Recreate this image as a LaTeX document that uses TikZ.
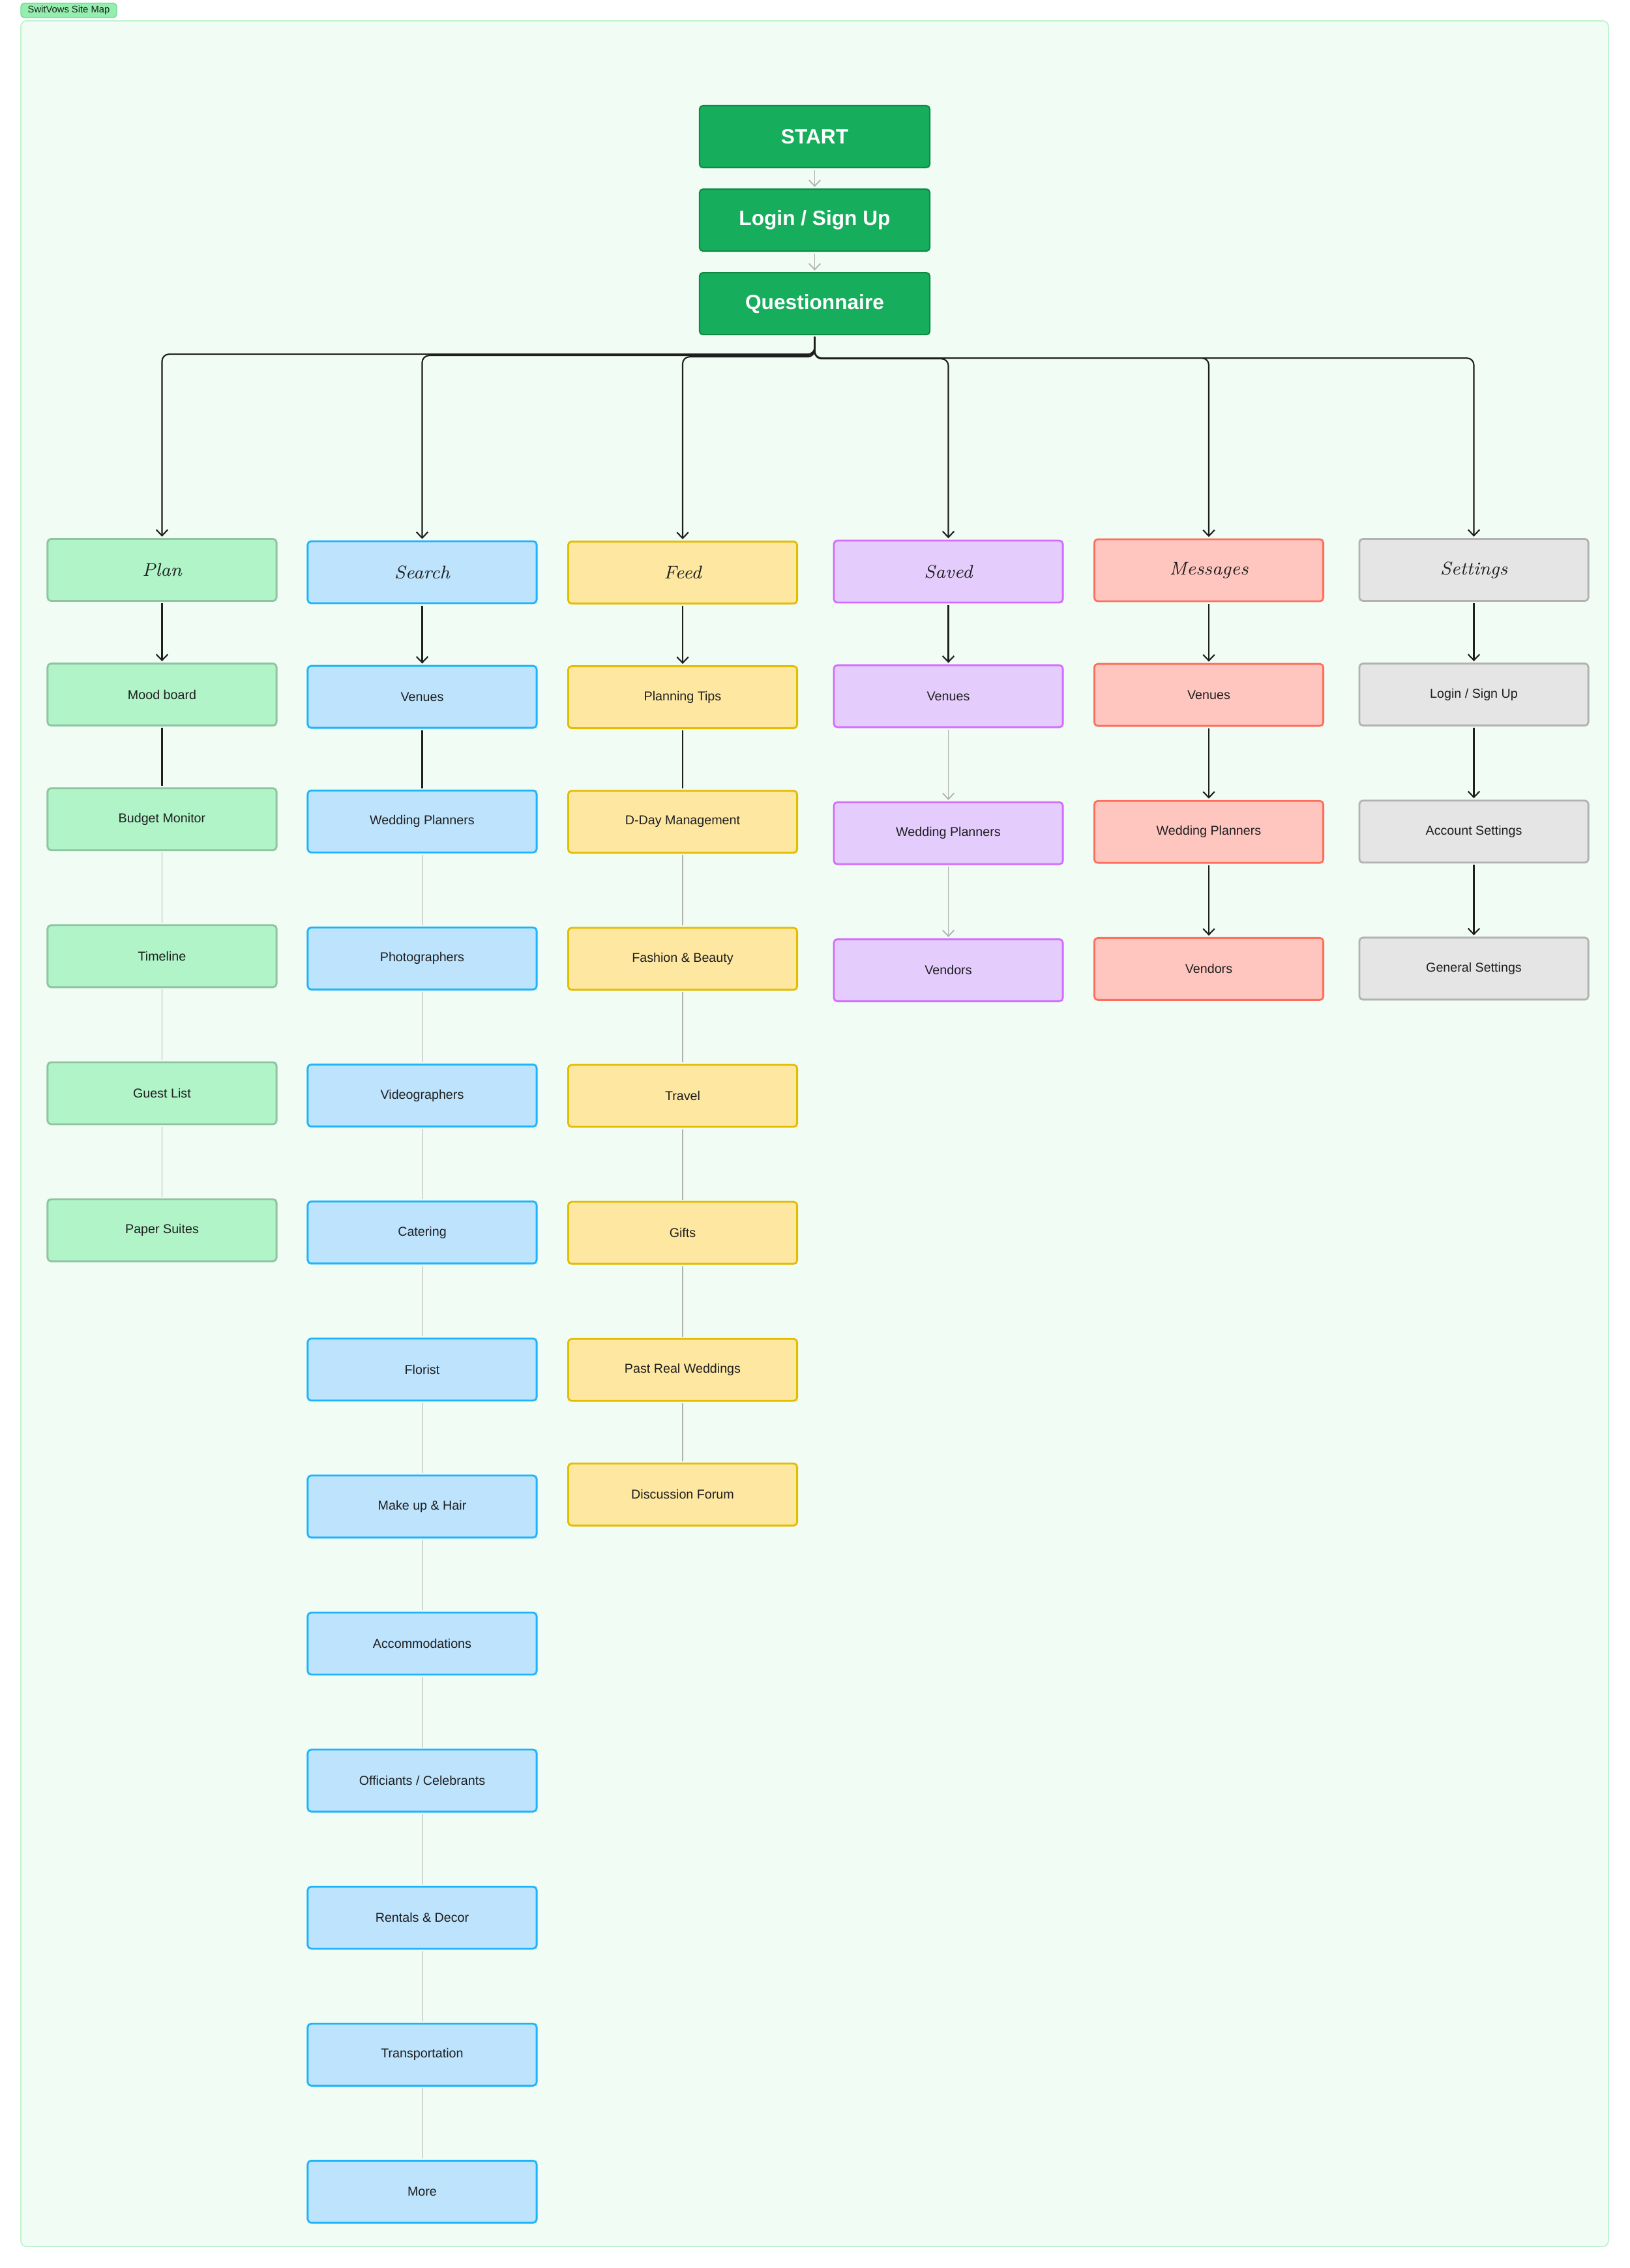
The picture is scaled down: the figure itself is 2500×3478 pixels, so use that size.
\documentclass[tikz,border=0pt]{standalone}
\usepackage{fontspec}
\setsansfont{Liberation Sans}
\usepackage{xcolor}
\usepackage{tikz}
\usetikzlibrary{arrows.meta, positioning}
\definecolor{frameedge}{RGB}{190,243,208}
\definecolor{framefill}{RGB}{241,252,244}
\definecolor{tagfill}{RGB}{148,238,174}
\definecolor{tagedge}{RGB}{120,214,150}
\definecolor{startfill}{RGB}{22,173,92}
\definecolor{startedge}{RGB}{14,138,70}
\definecolor{planfill}{RGB}{176,244,200}
\definecolor{planedge}{RGB}{142,196,159}
\definecolor{searchfill}{RGB}{189,227,253}
\definecolor{searchedge}{RGB}{30,180,251}
\definecolor{feedfill}{RGB}{254,231,161}
\definecolor{feededge}{RGB}{228,188,0}
\definecolor{savedfill}{RGB}{228,204,253}
\definecolor{savededge}{RGB}{212,108,255}
\definecolor{msgfill}{RGB}{255,198,192}
\definecolor{msgedge}{RGB}{253,112,94}
\definecolor{setfill}{RGB}{229,229,229}
\definecolor{setedge}{RGB}{178,178,178}
\definecolor{ink}{RGB}{30,30,30}
\definecolor{softline}{RGB}{176,176,176}

\begin{document}
\begin{tikzpicture}[
  x=0.01cm, y=-0.01cm,
  node distance=0.96cm,
  box/.style={draw, line width=0.8pt, rounded corners=1.5pt, inner sep=0pt, outer sep=0pt,
              minimum width=3.51cm, minimum height=0.95cm, align=center, text=ink,
              font=\sffamily\fontsize{5.6}{6.7}\selectfont},
  headbox/.style={box, font=\rmfamily\itshape\fontsize{8}{9.6}\selectfont},
  startbox/.style={draw=startedge, fill=startfill, line width=0.6pt, rounded corners=1.5pt,
              minimum width=3.53cm, minimum height=0.95cm, inner sep=0pt, outer sep=0pt,
              text=white, font=\sffamily\bfseries\fontsize{9}{10.8}\selectfont},
  tagbox/.style={draw=tagedge, fill=tagfill, line width=0.4pt, rounded corners=1.5pt,
              minimum width=1.47cm, minimum height=0.22cm, inner sep=0pt, text=ink,
              font=\sffamily\fontsize{4.2}{5}\selectfont},
  plancol/.style={fill=planfill, draw=planedge},
  searchcol/.style={fill=searchfill, draw=searchedge},
  feedcol/.style={fill=feedfill, draw=feededge},
  savedcol/.style={fill=savedfill, draw=savededge},
  msgcol/.style={fill=msgfill, draw=msgedge},
  setcol/.style={fill=setfill, draw=setedge},
  arr/.style={-{Straight Barb[length=2.6pt, width=5pt]}, line width=0.6pt, ink,
              shorten >=1pt, shorten <=1pt},
  bond/.style={line width=0.6pt, ink, shorten >=1pt, shorten <=1pt},
  thin/.style={line width=0.5pt, softline, shorten >=1pt, shorten <=1pt},
  thinarr/.style={thin, -{Straight Barb[length=2.6pt, width=5pt]}}
]
\fill[white] (0,0) rectangle (2500,3478);
\draw[frameedge, fill=framefill, line width=0.5pt, rounded corners=2.5pt] (32,32) rectangle (2467,3445);
\node[tagbox] (tag) at (105.5,16) {SwitVows Site Map};

\node[startbox] (start) at (1249.5,209.5) {START};
\node[startbox, below=0.33cm of start] (login) {Login / Sign Up};
\node[startbox, below=0.33cm of login] (quest) {Questionnaire};

\node[headbox, plancol] (plan) at (248.5,874) {Plan};
\node[headbox, searchcol] (srch) at (647.5,877.5) {Search};
\node[headbox, feedcol] (feed) at (1047,878) {Feed};
\node[headbox, savedcol] (svd) at (1454.5,876.5) {Saved};
\node[headbox, msgcol] (msg) at (1854,874.5) {Messages};
\node[headbox, setcol] (sett) at (2260.5,874) {Settings};

\node[box, plancol, below=of plan] (p1) {Mood board};
\node[box, plancol, below=of p1] (p2) {Budget Monitor};
\node[box, plancol, below=1.15cm of p2] (p3) {Timeline};
\node[box, plancol, below=1.15cm of p3] (p4) {Guest List};
\node[box, plancol, below=1.15cm of p4] (p5) {Paper Suites};

\node[box, searchcol, below=of srch] (s1) {Venues};
\node[box, searchcol, below=of s1] (s2) {Wedding Planners};
\node[box, searchcol, below=1.15cm of s2] (s3) {Photographers};
\node[box, searchcol, below=1.15cm of s3] (s4) {Videographers};
\node[box, searchcol, below=1.15cm of s4] (s5) {Catering};
\node[box, searchcol, below=1.15cm of s5] (s6) {Florist};
\node[box, searchcol, below=1.15cm of s6] (s7) {Make up \& Hair};
\node[box, searchcol, below=1.15cm of s7] (s8) {Accommodations};
\node[box, searchcol, below=1.15cm of s8] (s9) {Officiants / Celebrants};
\node[box, searchcol, below=1.15cm of s9] (s10) {Rentals \& Decor};
\node[box, searchcol, below=1.15cm of s10] (s11) {Transportation};
\node[box, searchcol, below=1.15cm of s11] (s12) {More};

\node[box, feedcol, below=of feed] (f1) {Planning Tips};
\node[box, feedcol, below=of f1] (f2) {D-Day Management};
\node[box, feedcol, below=1.15cm of f2] (f3) {Fashion \& Beauty};
\node[box, feedcol, below=1.15cm of f3] (f4) {Travel};
\node[box, feedcol, below=1.15cm of f4] (f5) {Gifts};
\node[box, feedcol, below=1.15cm of f5] (f6) {Past Real Weddings};
\node[box, feedcol, below=of f6] (f7) {Discussion Forum};

\node[box, savedcol, below=of svd] (v1) {Venues};
\node[box, savedcol, below=1.15cm of v1] (v2) {Wedding Planners};
\node[box, savedcol, below=1.15cm of v2] (v3) {Vendors};

\node[box, msgcol, below=of msg] (m1) {Venues};
\node[box, msgcol, below=1.15cm of m1] (m2) {Wedding Planners};
\node[box, msgcol, below=1.15cm of m2] (m3) {Vendors};

\node[box, setcol, below=of sett] (t1) {Login / Sign Up};
\node[box, setcol, below=1.15cm of t1] (t2) {Account Settings};
\node[box, setcol, below=1.15cm of t2] (t3) {General Settings};

\draw[thinarr] (start) -- (login);
\draw[thinarr] (login) -- (quest);

\draw[arr, rounded corners=3pt] (quest.south) -- ++(0,30) -| (plan.north);
\draw[arr, rounded corners=3pt] (quest.south) -- ++(0,32) -| (srch.north);
\draw[arr, rounded corners=3pt] (quest.south) -- ++(0,34) -| (feed.north);
\draw[arr, rounded corners=3pt] (quest.south) -- ++(0,37) -| (svd.north);
\draw[arr, rounded corners=3pt] (quest.south) -- ++(0,36) -| (msg.north);
\draw[arr, rounded corners=3pt] (quest.south) -- ++(0,36) -| (sett.north);

\draw[arr] (plan) -- (p1);
\draw[bond] (p1) -- (p2);
\draw[thin] (p2) -- (p3);
\draw[thin] (p3) -- (p4);
\draw[thin] (p4) -- (p5);

\draw[arr] (srch) -- (s1);
\draw[bond] (s1) -- (s2);
\draw[thin] (s2) -- (s3);
\draw[thin] (s3) -- (s4);
\draw[thin] (s4) -- (s5);
\draw[thin] (s5) -- (s6);
\draw[thin] (s6) -- (s7);
\draw[thin] (s7) -- (s8);
\draw[thin] (s8) -- (s9);
\draw[thin] (s9) -- (s10);
\draw[thin] (s10) -- (s11);
\draw[thin] (s11) -- (s12);

\draw[arr] (feed) -- (f1);
\draw[bond] (f1) -- (f2);
\draw[thin] (f2) -- (f3);
\draw[thin] (f3) -- (f4);
\draw[thin] (f4) -- (f5);
\draw[thin] (f5) -- (f6);
\draw[thin] (f6) -- (f7);

\draw[arr] (svd) -- (v1);
\draw[thinarr] (v1) -- (v2);
\draw[thinarr] (v2) -- (v3);

\draw[arr] (msg) -- (m1);
\draw[arr] (m1) -- (m2);
\draw[arr] (m2) -- (m3);

\draw[arr] (sett) -- (t1);
\draw[arr] (t1) -- (t2);
\draw[arr] (t2) -- (t3);
\end{tikzpicture}
\end{document}
